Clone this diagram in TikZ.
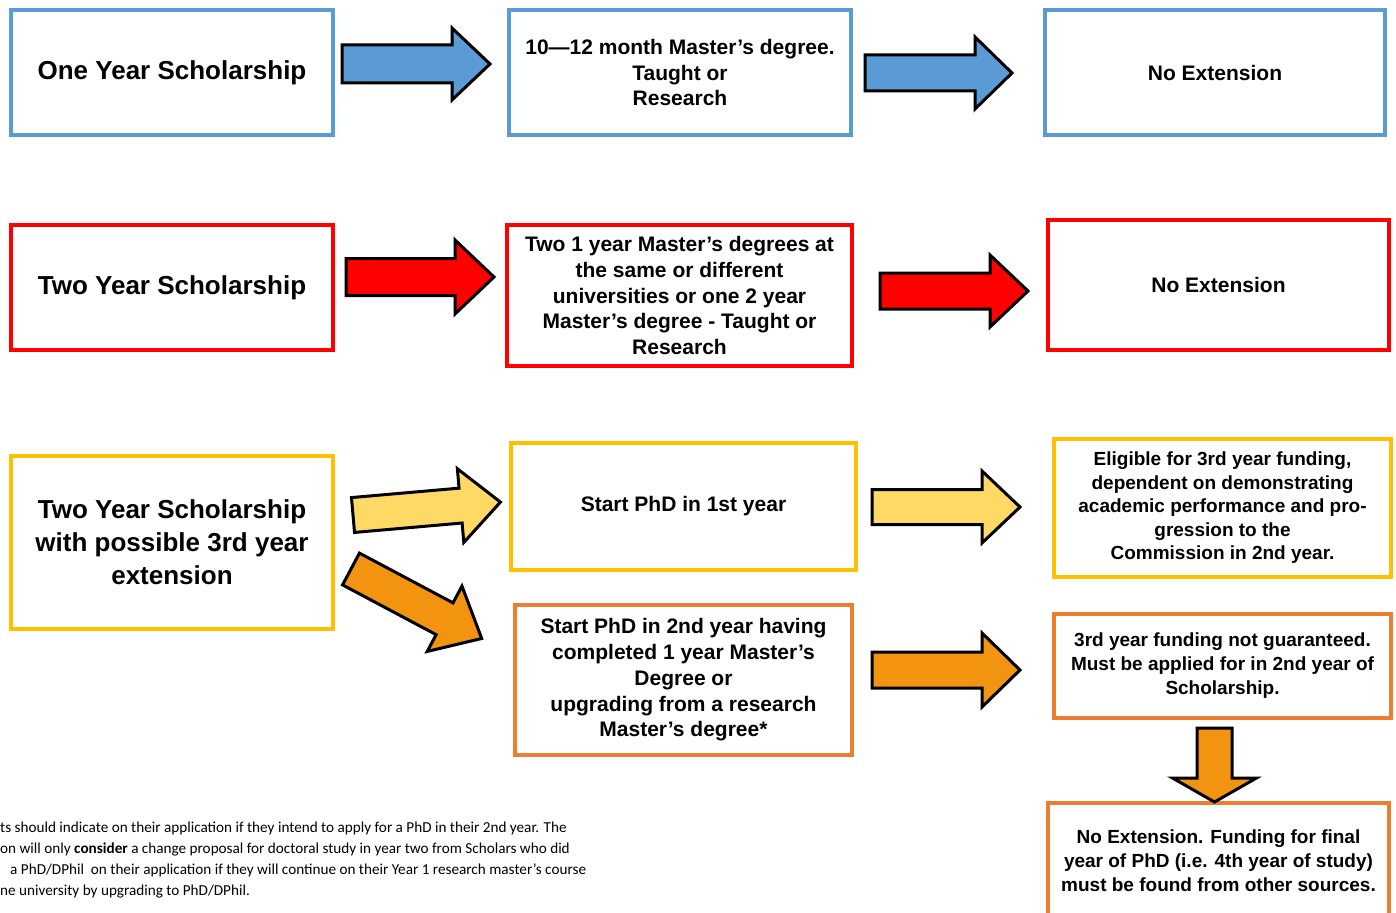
\documentclass[tikz,border=0pt]{standalone}
\usepackage{fontspec}
\setmainfont{Liberation Sans}
\newfontfamily\notefont{Carlito}
\definecolor{cblue}{HTML}{5B9BD5}
\definecolor{cred}{HTML}{FF0000}
\definecolor{cyel}{HTML}{FFC000}
\definecolor{cyelfill}{HTML}{FFD966}
\definecolor{corg}{HTML}{ED7D31}
\definecolor{corgfill}{HTML}{F39410}
\newcommand{\blkarrow}[8]{%
  \draw[barrow, fill=#1, shift={(#2,#3)}, rotate=#4]
    (0,-#7) -- ({#5-#6},-#7) -- ({#5-#6},-#8) -- (#5,0) -- ({#5-#6},#8) -- ({#5-#6},#7) -- (0,#7) -- cycle;}
\begin{document}
\begin{tikzpicture}[x=1pt,y=-1pt,
  box/.style={draw, line width=3.5pt, fill=white, inner sep=0pt, align=center,
    font=\bfseries\fontsize{21}{25.8}\selectfont},
  bigtext/.style={font=\bfseries\fontsize{26}{33}\selectfont},
  smalltext/.style={font=\bfseries\fontsize{19}{24}\selectfont},
  barrow/.style={draw=black, line width=3pt, line join=miter},
  note/.style={anchor=base west, inner sep=0pt, font=\notefont\fontsize{15.2}{21}\selectfont}]
\useasboundingbox (0,0) rectangle (1396,912);
\clip (0,0) rectangle (1396,912);
% Row 1
\node[box, draw=cblue, bigtext, minimum width=322, minimum height=125] (b1) at (172,72.5) {One Year Scholarship};
\node[box, draw=cblue, minimum width=342, minimum height=125] (b2) at (680,72.5) {10---12 month Master’s degree.\\Taught or\\Research};
\node[box, draw=cblue, minimum width=340, minimum height=125] (b3) at (1215,72.5) {No Extension};
% Row 2
\node[box, draw=cred, bigtext, minimum width=322, minimum height=125] (b4) at (172,287.5) {Two Year Scholarship};
\node[box, draw=cred, minimum width=345, minimum height=141] (b5) at (679.5,295.5) {Two 1 year Master’s degrees at\\the same or different\\universities or one 2 year\\Master’s degree - Taught or\\Research};
\node[box, draw=cred, minimum width=341, minimum height=130] (b6) at (1218.5,285) {No Extension};
% Row 3
\node[box, draw=cyel, bigtext, minimum width=322, minimum height=173] (b7) at (172,542.5) {Two Year Scholarship\\with possible 3rd year\\extension};
\node[box, draw=cyel, minimum width=345, minimum height=127] (b8) at (683.5,506.5) {Start PhD in 1st year};
\node[box, draw=cyel, minimum width=337, minimum height=138, font=\bfseries\fontsize{19}{23.5}\selectfont] (b9) at (1222.5,508) {Eligible for 3rd year funding,\\dependent on demonstrating\\academic performance and pro-\\gression to the\\Commission in 2nd year.};
\node[box, draw=corg, minimum width=337, minimum height=150] (b10) at (683.5,680) {Start PhD in 2nd year having\\completed 1 year Master’s\\Degree or\\upgrading from a research\\Master’s degree*};
\node[box, draw=corg, smalltext, minimum width=337, minimum height=104] (b11) at (1222.5,666) {3rd year funding not guaranteed.\\Must be applied for in 2nd year of\\Scholarship.};
\node[box, draw=corg, minimum width=341, minimum height=140] (b12) at (1218.5,873) {};
\node[align=center, inner sep=0pt, smalltext] (t12) at (1218.5,861) {No Extension. Funding for final\\year of PhD (i.e. 4th year of study)\\must be found from other sources.};
% Arrows
\blkarrow{cblue}{342}{64}{0}{148}{38}{19}{36}
\blkarrow{cblue}{865}{73}{0}{147}{37}{18}{36}
\blkarrow{cred}{346}{277}{0}{148}{39}{18.5}{37}
\blkarrow{cred}{880}{291}{0}{148}{38}{18}{36}
\blkarrow{cyelfill}{353}{515}{5}{148}{40}{17.5}{37}
\blkarrow{corgfill}{351}{569}{-28}{148}{42}{18}{37}
\blkarrow{cyelfill}{872}{507}{0}{148}{38}{17.5}{36}
\blkarrow{corgfill}{872}{670}{0}{148}{38}{18}{37}
\blkarrow{corgfill}{1214.5}{728}{-90}{74}{24}{17.5}{42}
% Footnote
\node[note] (n1) at (0,832) {ts should indicate on their application if they intend to apply for a PhD in their 2nd year. The};
\node[note] (n2) at (0,853) {on will only \textbf{consider} a change proposal for doctoral study in year two from Scholars who did};
\node[note] (n3) at (10,874) {a PhD/DPhil\ \ on their application if they will continue on their Year 1 research master’s course};
\node[note] (n4) at (0,895) {ne university by upgrading to PhD/DPhil.};
\end{tikzpicture}
\end{document}
